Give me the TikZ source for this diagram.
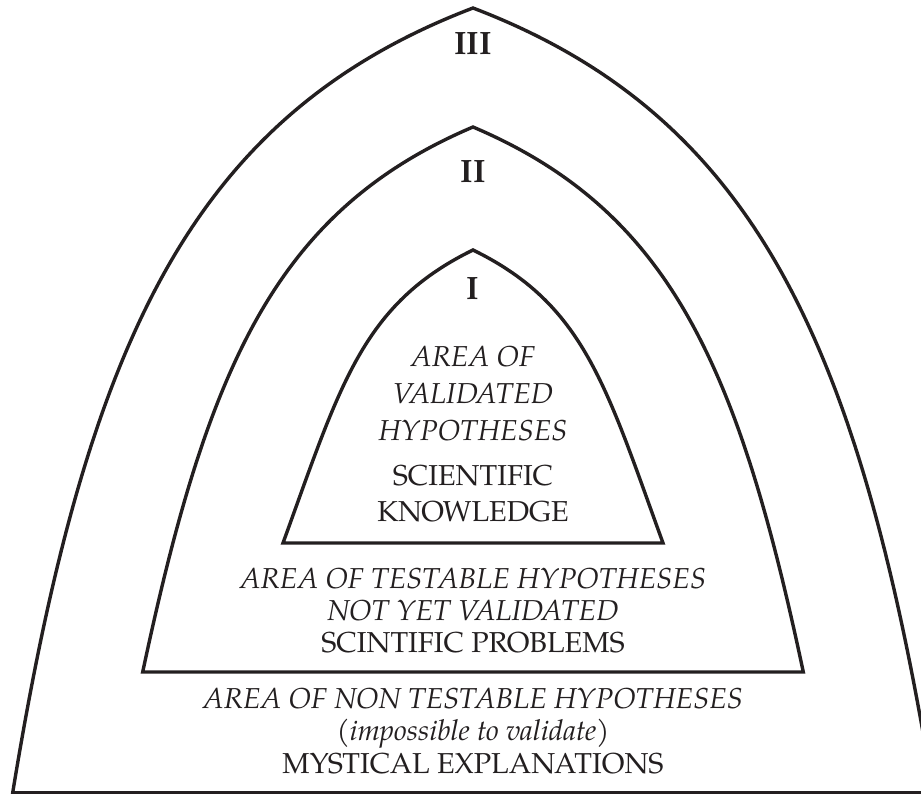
\documentclass[tikz,border=0pt]{standalone}
\usepackage{fontspec}
\setmainfont{texgyrepagella}[Extension=.otf, UprightFont=*-regular, ItalicFont=*-italic, BoldFont=*-bold, BoldItalicFont=*-bolditalic]
\definecolor{ink}{HTML}{231F20}
\newcommand{\levelmark}[1]{{\bfseries #1}}

\begin{document}
\begin{tikzpicture}[x=0.02cm, y=-0.02cm]
		\tikzstyle{every node}=[inner sep=0pt, align=center, text=ink]
		\tikzstyle{arch}=[draw=ink, line width=0.068cm, line join=miter]
		\tikzstyle{numeral}=[font=\fontsize{18.4}{22}\selectfont]
		\tikzstyle{areatext}=[font=\fontsize{16.4}{18.6}\selectfont]
		\def\mid{473}

		\useasboundingbox (0,0) rectangle (921,794);
		\clip (0,0) rectangle (921,794);

		% outer arch, III
		\draw[arch] (12.7,792.7) .. controls (86,345) and (190,116) .. (\mid,8)
			.. controls (946-190,116) and (946-86,345) .. (946-12.7,792.7) -- cycle;
		% middle arch, II
		\draw[arch] (142.7,672) .. controls (207.4,367.8) and (275.1,211) .. (\mid,127)
			.. controls (946-275.1,211) and (946-207.4,367.8) .. (946-142.7,672) -- cycle;
		% inner arch, I
		\draw[arch] (283,543) .. controls (340.1,386.1) and (361.5,304.4) .. (\mid,250)
			.. controls (946-361.5,304.4) and (946-340.1,386.1) .. (946-283,543) -- cycle;

		\node[numeral] (num3) at (\mid,44) {\levelmark{III}};
		\node[numeral] (num2) at (\mid,172) {\levelmark{II}};
		\node[numeral] (num1) at (\mid,289) {\levelmark{I}};

		\node[areatext, font=\fontsize{16.4}{21}\selectfont\itshape] (validated) at (\mid,393.4)
			{AREA OF\\VALIDATED\\HYPOTHESES};
		\node[areatext, font=\fontsize{16.4}{20.8}\selectfont] (knowledge) at (\mid,493.4)
			{SCIENTIFIC\\KNOWLEDGE};
		\node[areatext, font=\fontsize{16.4}{18.4}\selectfont] (problems) at (\mid,610.5)
			{\textit{AREA OF TESTABLE HYPOTHESES}\\\textit{NOT YET VALIDATED}\\SCINTIFIC PROBLEMS};
		\node[areatext] (mystical) at (\mid,731)
			{\textit{AREA OF NON TESTABLE HYPOTHESES}\\{\itshape(impossible to validate)}\\MYSTICAL EXPLANATIONS};
\end{tikzpicture}
\end{document}
